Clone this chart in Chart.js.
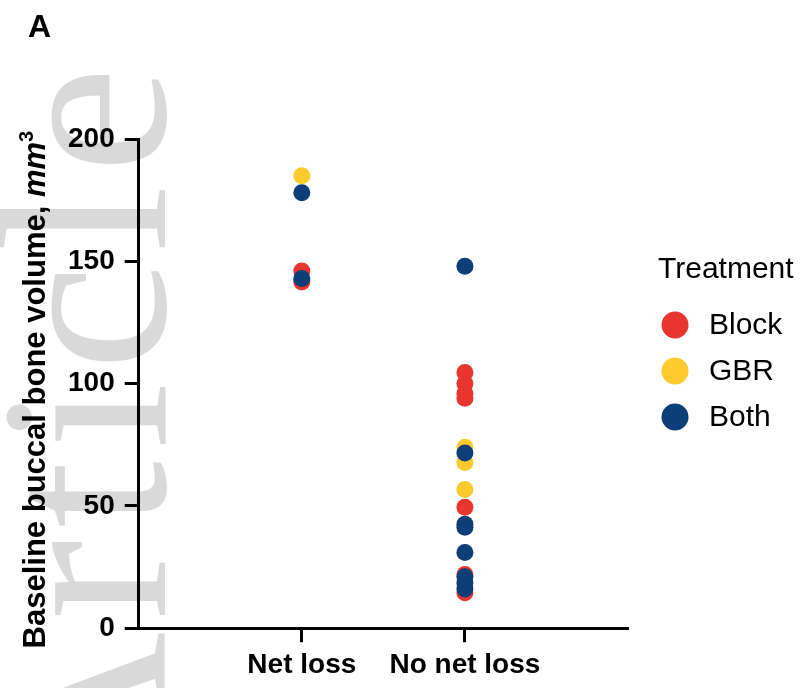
<!DOCTYPE html>
<html lang="en">
<head>
    <title>Baseline buccal bone volume</title>
    <script src="https://cdn.jsdelivr.net/npm/chart.js"></script>
    <style>
        body {
            margin: 0;
            background: #fff;
        }

        #wrap {
            position: relative;
            width: 809px;
            height: 688px;
        }
    </style>
</head>
<body>
<div id="wrap">
    <canvas id="myChart"></canvas>
</div>
<script>
    const categories = ['Net loss', 'No net loss'];
    const treatments = ['Block', 'GBR', 'Both'];
    const colors = ['#e8352e', '#fdcb2e', '#0c3e78'];
    const yTicks = [0, 50, 100, 150, 200];

    // values per treatment, per outcome group (mm3)
    const blockNetLoss = [146, 141.5];
    const blockNoNetLoss = [104.5, 100, 96, 94, 49.5, 22, 14.5];
    const gbrNetLoss = [185];
    const gbrNoNetLoss = [74, 67.8, 56.7];
    const bothNetLoss = [178, 143];
    const bothNoNetLoss = [148, 71.6, 42.5, 41.3, 31, 21, 18.5, 16];

    const groups = [
        [blockNetLoss, blockNoNetLoss],
        [gbrNetLoss, gbrNoNetLoss],
        [bothNetLoss, bothNoNetLoss],
    ];
    // draw order: Both on top, GBR at the bottom
    const drawOrder = [2, 3, 1];

    function toPoints(lists) {
        let pts = [];
        lists.forEach((vals, c) => {
            vals.forEach(v => pts.push({x: c + 1, y: v}));
        });
        return pts;
    }

    const datasets = treatments.map((t, i) => ({
        label: t,
        data: toPoints(groups[i]),
        backgroundColor: colors[i],
        borderWidth: 0,
        pointRadius: 8.5,
        pointHoverRadius: 8.5,
        order: drawOrder[i],
    }));

    const FONT = '"Liberation Sans", Arial, sans-serif';
    Chart.defaults.font.family = FONT;
    Chart.defaults.color = '#000';

    const decorations = {
        id: 'decorations',
        beforeDraw(chart) {
            const ctx = chart.ctx;
            // faint "Article" watermark behind the plot
            ctx.save();
            ctx.translate(165, 805);
            ctx.rotate(-Math.PI / 2);
            ctx.font = '240px "Liberation Serif", "Times New Roman", serif';
            ctx.fillStyle = '#d9d9d9';
            ctx.letterSpacing = '12px';
            ctx.textBaseline = 'alphabetic';
            ctx.fillText('Article', 0, 0);
            ctx.restore();
        },
        afterDraw(chart) {
            const ctx = chart.ctx;
            ctx.save();

            // panel letter
            ctx.fillStyle = '#000';
            ctx.font = 'bold 32px ' + FONT;
            ctx.textBaseline = 'alphabetic';
            ctx.textAlign = 'left';
            ctx.fillText('A', 28, 37);

            // y axis title with italic unit and superscript
            const parts = [
                {text: 'Baseline buccal bone volume, ', font: 'bold 31px ' + FONT, dy: 0},
                {text: 'mm', font: 'italic bold 31px ' + FONT, dy: 0},
                {text: '3', font: 'bold 20px ' + FONT, dy: -12},
            ];
            let total = 0;
            parts.forEach(p => {
                ctx.font = p.font;
                p.w = ctx.measureText(p.text).width;
                total += p.w;
            });
            const yMid = (chart.chartArea.top + chart.chartArea.bottom) / 2 + 6;
            ctx.translate(45, yMid);
            ctx.rotate(-Math.PI / 2);
            let x = -total / 2;
            parts.forEach(p => {
                ctx.font = p.font;
                ctx.fillText(p.text, x, p.dy);
                x += p.w;
            });
            ctx.restore();

            // legend
            ctx.save();
            ctx.fillStyle = '#000';
            ctx.font = '30px ' + FONT;
            ctx.textBaseline = 'alphabetic';
            ctx.fillText('Treatment', 658, 278);
            ctx.textBaseline = 'middle';
            treatments.forEach((t, i) => {
                const cy = 325 + i * 46;
                ctx.beginPath();
                ctx.arc(675, cy, 13.5, 0, Math.PI * 2);
                ctx.fillStyle = colors[i];
                ctx.fill();
                ctx.fillStyle = '#000';
                ctx.fillText(t, 709, cy + 1);
            });
            ctx.restore();
        }
    };

    const ctx = document.getElementById('myChart').getContext('2d');
    const chart = new Chart(ctx, {
        type: 'scatter',
        data: {datasets: datasets},
        plugins: [decorations],
        options: {
            responsive: true,
            maintainAspectRatio: false,
            animation: false,
            layout: {
                padding: {left: 58, right: 181, top: 139, bottom: 0}
            },
            plugins: {
                legend: {display: false},
                tooltip: {enabled: false},
            },
            scales: {
                x: {
                    type: 'linear',
                    min: 0,
                    max: categories.length + 1,
                    afterBuildTicks: axis => {
                        axis.ticks = categories.map((c, i) => ({value: i + 1}));
                    },
                    ticks: {
                        callback: v => categories[v - 1],
                        font: {size: 28, weight: 'bold', lineHeight: 0.92},
                        color: '#000',
                        padding: 10,
                        maxRotation: 0,
                        autoSkip: false,
                    },
                    grid: {
                        drawOnChartArea: false,
                        tickLength: 14,
                        tickWidth: 3,
                        tickColor: '#000',
                    },
                    border: {color: '#000', width: 3},
                },
                y: {
                    min: yTicks[0],
                    max: yTicks[yTicks.length - 1],
                    afterBuildTicks: axis => {
                        axis.ticks = yTicks.map(v => ({value: v}));
                    },
                    ticks: {
                        font: {size: 28, weight: 'bold'},
                        color: '#000',
                        padding: 10,
                    },
                    grid: {
                        drawOnChartArea: false,
                        tickLength: 14,
                        tickWidth: 3,
                        tickColor: '#000',
                    },
                    border: {color: '#000', width: 3},
                }
            }
        }
    });
</script>
</body>
</html>
